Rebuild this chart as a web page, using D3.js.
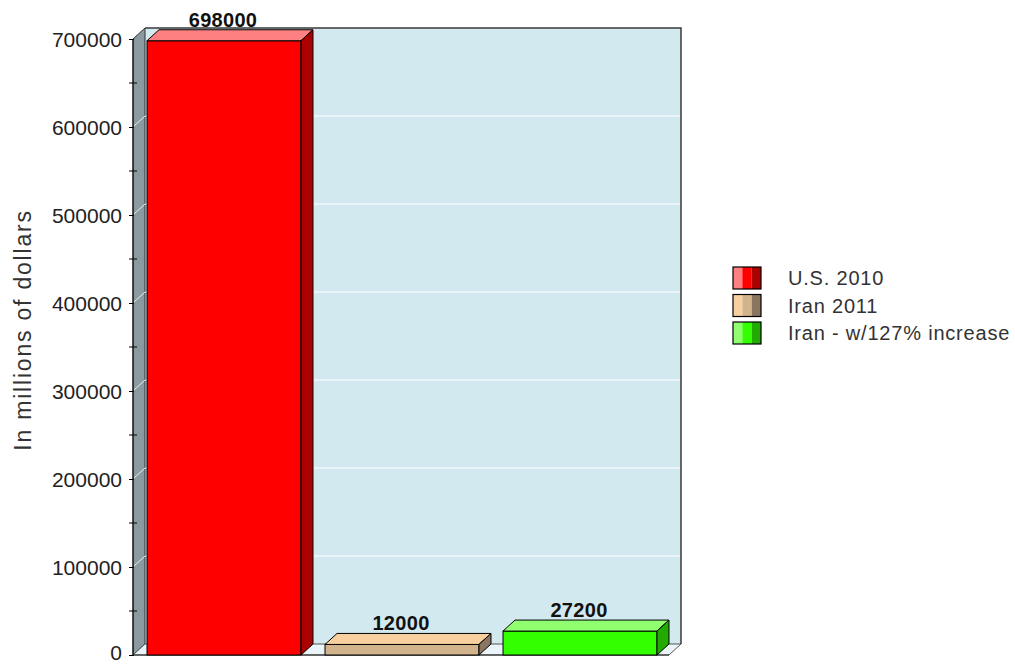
<!DOCTYPE html>
<html>
<head>
<meta charset="utf-8">
<script src="https://cdn.jsdelivr.net/npm/d3@7"></script>
<style>
  body { margin: 0; background: #fff; }
  text { font-family: "Liberation Sans", Arial, sans-serif; }
</style>
</head>
<body>
<svg id="chart" width="1015" height="664"></svg>
<script>
// data
const categories = ["U.S. 2010", "Iran 2011", "Iran - w/127% increase"];
const values = [698000, 12000, 27200];
const frontColors = ["#ff0000", "#d2b48c", "#33ff00"];
const topColors = ["#ff8080", "#f8d0a0", "#90ff70"];
const sideColors = ["#aa0000", "#8a7560", "#22aa00"];
const yTicks = [0, 100000, 200000, 300000, 400000, 500000, 600000, 700000];

const svg = d3.select("#chart");
const dx = 12, dy = 11; // 3d depth

const y = d3.scaleLinear().domain([0, 700000]).range([655, 39]);
const x = d3.scaleBand().domain(categories).range([135, 669])
  .paddingInner(0.135).paddingOuter(0.0675);

const x0 = 133, x1 = 669;

// back wall
svg.append("rect")
  .attr("x", x0 + dx).attr("y", y(700000) - dy)
  .attr("width", x1 - x0).attr("height", y(0) - y(700000))
  .style("fill", "#d2e9f0");

// left wall
svg.append("polygon")
  .attr("points", [[x0, y(0)], [x0 + dx, y(0) - dy], [x0 + dx, y(700000) - dy], [x0, y(700000)]].join(" "))
  .style("fill", "#8a9aa0").style("stroke", "#333").style("stroke-width", 1);

// floor
svg.append("polygon")
  .attr("points", [[x0, y(0)], [x1, y(0)], [x1 + dx, y(0) - dy], [x0 + dx, y(0) - dy]].join(" "))
  .style("fill", "#eaf5f9").style("stroke", "#555").style("stroke-width", 1);

// gridlines
const grid = yTicks.filter(d => d > 0 && d < 700000);
svg.selectAll(".grid").data(grid).enter().append("line")
  .attr("class", "grid")
  .attr("x1", x0 + dx).attr("x2", x1 + dx)
  .attr("y1", d => y(d) - dy).attr("y2", d => y(d) - dy)
  .style("stroke", "#fff").style("stroke-width", 1.2);
svg.selectAll(".gridl").data(grid).enter().append("line")
  .attr("class", "gridl")
  .attr("x1", x0 + 1).attr("x2", x0 + dx)
  .attr("y1", d => y(d) - 1).attr("y2", d => y(d) - dy)
  .style("stroke", "#eee").style("stroke-width", 1);

// back wall border (top and right)
svg.append("path")
  .attr("d", `M${x0 + dx},${y(700000) - dy}H${x1 + dx}V${y(0) - dy}`)
  .style("fill", "none").style("stroke", "#3a3a3a").style("stroke-width", 1.5);

// y axis
const axis = d3.axisLeft(y).tickValues(yTicks).tickSize(4).tickPadding(7).tickFormat(d3.format("d"));
const ag = svg.append("g").attr("transform", `translate(${x0},0)`).call(axis);
ag.select(".domain").attr("d", `M0,${y(700000)}V${y(0)}`).style("stroke", "#000");
ag.selectAll(".tick line").attr("x2", -4).attr("x1", 1).style("stroke", "#000");
ag.selectAll(".tick text").style("font-size", "21px").style("fill", "#222")
  .style("font-family", "'Liberation Sans', Arial, sans-serif")
  .attr("dy", d => d === 0 ? "0.2em" : "0.34em");
const minor = d3.range(50000, 700000, 100000);
svg.selectAll(".minor").data(minor).enter().append("line")
  .attr("x1", x0 - 4).attr("x2", x0 + 4)
  .attr("y1", d => y(d)).attr("y2", d => y(d))
  .style("stroke", "#000");
svg.append("line").attr("x1", x0).attr("x2", x1).attr("y1", y(0)).attr("y2", y(0))
  .style("stroke", "#222").style("stroke-width", 1.2);

// y title
svg.append("text")
  .attr("transform", `translate(31,${330}) rotate(-90)`)
  .attr("text-anchor", "middle")
  .style("font-size", "23px").style("fill", "#333").style("letter-spacing", "1.8px")
  .text("In millions of dollars");

// bars
const bars = svg.selectAll(".bar").data(values).enter().append("g").attr("class", "bar");
const bw = x.bandwidth();
bars.append("rect")
  .attr("x", (d, i) => x(categories[i])).attr("y", d => y(d))
  .attr("width", bw).attr("height", d => y(0) - y(d))
  .style("fill", (d, i) => frontColors[i]).style("stroke", "#000").style("stroke-width", 1);
bars.append("polygon")
  .attr("points", (d, i) => {
    const l = x(categories[i]), t = y(d);
    return [[l, t], [l + dx, t - dy], [l + bw + dx, t - dy], [l + bw, t]].join(" ");
  })
  .style("fill", (d, i) => topColors[i]).style("stroke", "#000").style("stroke-width", 1);
bars.append("polygon")
  .attr("points", (d, i) => {
    const r = x(categories[i]) + bw, t = y(d);
    return [[r, t], [r + dx, t - dy], [r + dx, y(0) - dy], [r, y(0)]].join(" ");
  })
  .style("fill", (d, i) => sideColors[i]).style("stroke", "#000").style("stroke-width", 1);
bars.append("text")
  .attr("x", (d, i) => x(categories[i]) + bw / 2 - 1)
  .attr("y", d => y(d) - dy - 3)
  .attr("text-anchor", "middle")
  .style("font-size", "20px").style("font-weight", "bold").style("fill", "#111")
  .style("letter-spacing", "0.3px")
  .text(d => d);

// legend
const lg = svg.selectAll(".leg").data(categories).enter().append("g")
  .attr("class", "leg")
  .attr("transform", (d, i) => `translate(733,${267 + i * 27.5})`);
const sw = 28, sh = 22;
[topColors, frontColors, sideColors].forEach((cols, k) => {
  lg.append("rect")
    .attr("x", k * sw / 3).attr("y", 0).attr("width", sw / 3).attr("height", sh)
    .style("fill", (d, i) => cols[i]);
});
lg.append("rect").attr("width", sw).attr("height", sh)
  .style("fill", "none").style("stroke", "#000").style("stroke-width", 1.2);
lg.append("text")
  .attr("x", 55).attr("y", sh / 2).attr("dy", "0.36em")
  .style("font-size", "20px").style("fill", "#333").style("letter-spacing", "0.8px")
  .text(d => d);
</script>
</body>
</html>
